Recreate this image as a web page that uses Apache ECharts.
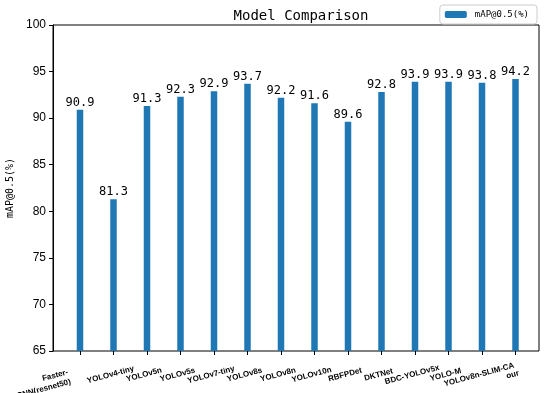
<!DOCTYPE html>
<html><head><meta charset="utf-8">
<script src="https://cdn.jsdelivr.net/npm/echarts@6/dist/echarts.min.js"></script>
<style>html,body{margin:0;padding:0;background:#fff}#c{width:550px;height:393px}</style>
</head><body><div id="c"></div>
<script>
const categories = ['Faster-\nRCNN(resnet50)','YOLOv4-tiny','YOLOv5n','YOLOv5s','YOLOv7-tiny','YOLOv8s','YOLOv8n','YOLOv10n','RBFPDet','DKTNet','BDC-YOLOv5x','YOLO-M','YOLOv8n-SLIM-CA','our'];
const mapValues = [90.9, 81.3, 91.3, 92.3, 92.9, 93.7, 92.2, 91.6, 89.6, 92.8, 93.9, 93.9, 93.8, 94.2];
const seriesName = 'mAP@0.5(%)';
const yMin = 65, yMax = 100, yStep = 5;

const catData = categories.map((c, i) => i === 0 ? {value: c, textStyle: {padding: [0, 11, 0, 0]}} : c);

const chart = echarts.init(document.getElementById('c'), null, {renderer:'canvas'});
chart.setOption({
  animation:false,
  backgroundColor:'#fff',
  title:{text:'Model Comparison', left:296, textAlign:'center', top:4,
    textStyle:{fontFamily:'DejaVu Sans Mono', fontSize:14, fontWeight:'normal', color:'#000'}},
  legend:{data:[seriesName], right:13, top:5, itemWidth:22, itemHeight:7, itemGap:6,
    borderColor:'#ccc', borderWidth:1, borderRadius:3, padding:[5,8,5,5], backgroundColor:'#fff',
    textStyle:{fontFamily:'DejaVu Sans Mono', fontSize:9, color:'#000', padding:[0,0,0,3]}},
  grid:[
    {left:53, right:11, top:25, bottom:42, show:true, borderColor:'#000', borderWidth:1, backgroundColor:'transparent', outerBoundsMode:'none', containLabel:false},
    {left:63.25, right:17.75, top:25, bottom:42, outerBoundsMode:'none', containLabel:false}
  ],
  xAxis:[
    {gridIndex:0, type:'value', min:0, max:1, show:false},
    {gridIndex:1, type:'category', data:catData,
      axisLine:{show:false},
      axisTick:{show:true, alignWithLabel:true, length:4, lineStyle:{color:'#000'}},
      axisLabel:{rotate:15, align:'center', verticalAlign:'middle', margin:23, interval:0,
        padding:[0,6,0,0],
        fontFamily:'Liberation Sans', fontWeight:'bold', fontSize:8, lineHeight:10, color:'#000'}}
  ],
  yAxis:[
    {gridIndex:0, type:'value', min:yMin, max:yMax, interval:yStep,
      name:seriesName, nameLocation:'middle', nameGap:38,
      nameTextStyle:{fontFamily:'DejaVu Sans Mono', fontSize:10, color:'#000'},
      axisLine:{show:true, lineStyle:{color:'#000'}},
      axisTick:{show:true, length:4, lineStyle:{color:'#000'}},
      axisLabel:{fontFamily:'Liberation Sans', fontSize:12, color:'#000', margin:7},
      splitLine:{show:false}},
    {gridIndex:1, type:'value', min:yMin, max:yMax, interval:yStep, show:false, splitLine:{show:false}}
  ],
  series:[{
    name:seriesName, type:'bar', xAxisIndex:1, yAxisIndex:1, data:mapValues, barWidth:6.5,
    itemStyle:{color:'#1f77b4'},
    label:{show:true, position:'top', distance:1, fontFamily:'DejaVu Sans Mono', fontSize:12, color:'#000'}
  }]
});
</script></body></html>
